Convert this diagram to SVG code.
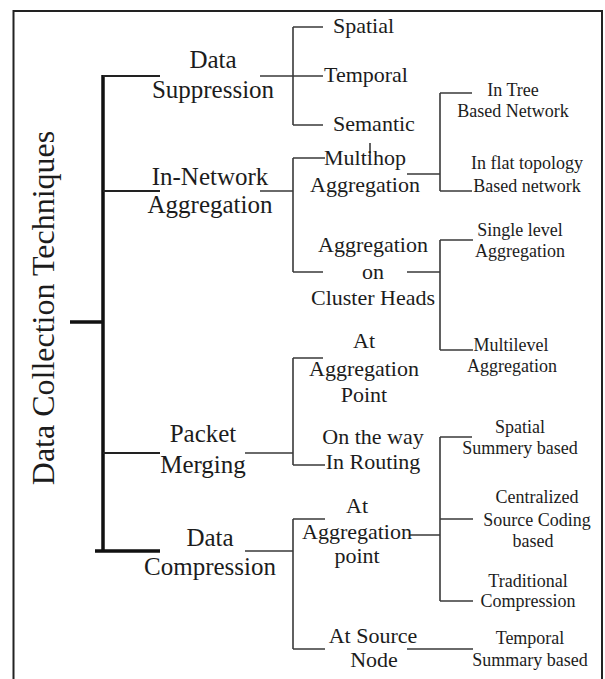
<svg xmlns="http://www.w3.org/2000/svg" width="605" height="679" viewBox="0 0 605 679">
<style>
text{font-family:"Liberation Serif","Times New Roman",serif;fill:#1c1c1c;text-anchor:middle}
.t0{font-size:32px}
.t1{font-size:25px}
.t2{font-size:22px}
.t3{font-size:18px}
.st{text-anchor:start}
.c0{stroke:#111;stroke-width:3.5;fill:none}
.c1{stroke:#222;stroke-width:2;fill:none}
.c2{stroke:#3a3a3a;stroke-width:1.6;fill:none}
</style>
<rect x="0" y="0" width="605" height="679" fill="#fff"/>
<rect x="13.5" y="11" width="588.5" height="690" fill="#fff" stroke="#222" stroke-width="2"/>
<g id="connectors">
  <path class="c0" d="M70 322H103M103 75V552M95 551H160"/>
  <path class="c1" d="M103 76H160M103 191H160M103 453H160"/>
  <path class="c2" d="M260 76H323M260 191H293M245 453H293M245 551H293"/>
  <path class="c2" d="M293 27V125M293 27H323M293 125H323"/>
  <path class="c2" d="M370 143V155"/>
  <path class="c2" d="M293 158V272M293 158H325M293 272H323"/>
  <path class="c2" d="M407 174H440M440 93V191M440 93H472M440 191H472"/>
  <path class="c2" d="M407 272H440M440 240V350M440 240H473M440 350H473"/>
  <path class="c2" d="M293 358V465M293 358H323M293 465H325"/>
  <path class="c2" d="M440 437V601M440 437H472M440 519H473M440 601H473M410 535H440"/>
  <path class="c2" d="M293 519V649M293 519H325M293 649H325M407 649H473"/>
</g>
<g id="root"><text class="t0" x="54" y="308" transform="rotate(-90 54 308)">Data Collection Techniques</text></g>
<g id="data-suppression"><text class="t1" x="213" y="68">Data</text><text class="t1" x="213" y="98">Suppression</text></g>
<g id="spatial"><text class="t2 st" x="333" y="33">Spatial</text></g>
<g id="temporal"><text class="t2 st" x="324" y="82">Temporal</text></g>
<g id="semantic"><text class="t2 st" x="333" y="131">Semantic</text></g>
<g id="in-network-aggregation"><text class="t1" x="210" y="185">In-Network</text><text class="t1" x="210" y="213">Aggregation</text></g>
<g id="multihop-aggregation"><text class="t2" x="365" y="165">Multihop</text><text class="t2" x="365" y="192">Aggregation</text></g>
<g id="in-tree"><text class="t3" x="513" y="96">In Tree</text><text class="t3" x="513" y="117">Based Network</text></g>
<g id="in-flat"><text class="t3" x="527" y="169">In flat topology</text><text class="t3" x="527" y="192">Based network</text></g>
<g id="aggregation-cluster-heads"><text class="t2" x="373" y="252">Aggregation</text><text class="t2" x="373" y="279">on</text><text class="t2" x="373" y="305">Cluster Heads</text></g>
<g id="single-level"><text class="t3" x="520" y="236">Single level</text><text class="t3" x="520" y="257">Aggregation</text></g>
<g id="multilevel"><text class="t3" x="511" y="351">Multilevel</text><text class="t3" x="512" y="372">Aggregation</text></g>
<g id="packet-merging"><text class="t1" x="203" y="442">Packet</text><text class="t1" x="203" y="473">Merging</text></g>
<g id="at-aggregation-point-pm"><text class="t2" x="364" y="348">At</text><text class="t2" x="364" y="376">Aggregation</text><text class="t2" x="364" y="402">Point</text></g>
<g id="on-the-way"><text class="t2" x="373" y="444">On the way</text><text class="t2" x="373" y="469">In Routing</text></g>
<g id="spatial-summery"><text class="t3" x="520" y="433">Spatial</text><text class="t3" x="520" y="454">Summery based</text></g>
<g id="data-compression"><text class="t1" x="210" y="546">Data</text><text class="t1" x="210" y="575">Compression</text></g>
<g id="at-aggregation-point-dc"><text class="t2" x="357" y="513">At</text><text class="t2" x="357" y="539">Aggregation</text><text class="t2" x="357" y="563">point</text></g>
<g id="centralized"><text class="t3" x="537" y="503">Centralized</text><text class="t3" x="537" y="526">Source Coding</text><text class="t3" x="533" y="547">based</text></g>
<g id="traditional"><text class="t3" x="528" y="587">Traditional</text><text class="t3" x="528" y="607">Compression</text></g>
<g id="at-source-node"><text class="t2" x="373" y="643">At Source</text><text class="t2" x="374" y="667">Node</text></g>
<g id="temporal-summary"><text class="t3" x="530" y="644">Temporal</text><text class="t3" x="530" y="666">Summary based</text></g>
</svg>
